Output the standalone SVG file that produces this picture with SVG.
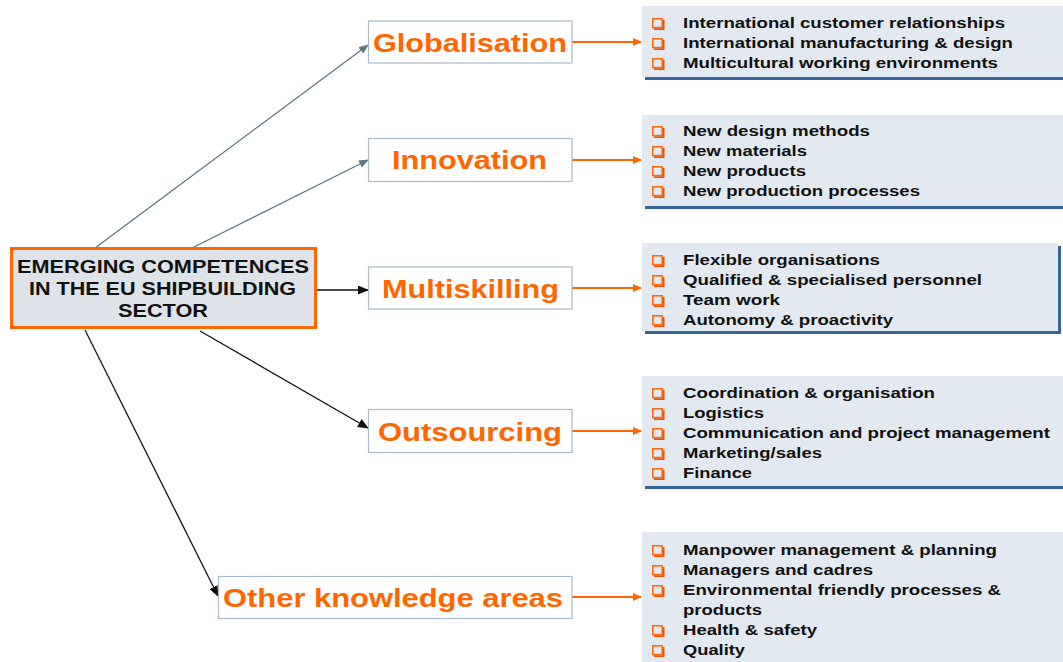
<svg xmlns="http://www.w3.org/2000/svg" width="1063" height="662" viewBox="0 0 1063 662">
<style>
.bg{fill:#ffffff}
.rbox{fill:#e2e9f1}
.shadow{fill:#34649a}
.mbox{fill:#ffffff;stroke:#a9bac9;stroke-width:1.2}
.lbl{font-family:"Liberation Sans",Arial,sans-serif;font-weight:bold;font-size:25.5px;fill:#ff6600}
.item{font-family:"Liberation Sans",Arial,sans-serif;font-weight:bold;font-size:14.5px;fill:#111111}
.ctext{font-family:"Liberation Sans",Arial,sans-serif;font-weight:bold;font-size:18px;fill:#111111}
.gray{stroke:#5d7785;stroke-width:1.3;fill:none}
.blk{stroke:#111111;stroke-width:1.3;fill:none}
.org{stroke:#ff6600;stroke-width:2;fill:none}
</style>
<defs>
<marker id="mg" markerWidth="10" markerHeight="8" refX="9" refY="4" orient="auto" markerUnits="userSpaceOnUse"><path d="M0,0 L10,4 L0,8 Z" fill="#5d7785"/></marker>
<marker id="mb" markerWidth="11" markerHeight="9" refX="10" refY="4.5" orient="auto" markerUnits="userSpaceOnUse"><path d="M0,0 L11,4.5 L0,9 Z" fill="#111111"/></marker>
<marker id="mo" markerWidth="9" markerHeight="8" refX="8" refY="4" orient="auto" markerUnits="userSpaceOnUse"><path d="M0,0 L9,4 L0,8 Z" fill="#ff6600"/></marker>
<g id="bul"><path d="M11.6,2 V11.2 H2" fill="none" stroke="#e0560a" stroke-width="1.8"/><rect x="0.8" y="0.8" width="9.4" height="8.8" fill="none" stroke="#ff6a10" stroke-width="1.6"/></g>
</defs>
<rect class="bg" x="0" y="0" width="1063" height="662"/>

<g id="connectors">
<line class="gray" x1="95" y1="248" x2="368" y2="45" marker-end="url(#mg)"/>
<line class="gray" x1="192" y1="248" x2="368" y2="160" marker-end="url(#mg)"/>
<line class="blk" x1="317" y1="290" x2="368" y2="290" marker-end="url(#mb)"/>
<line class="blk" x1="200" y1="331" x2="368" y2="428" marker-end="url(#mb)"/>
<line class="blk" x1="85" y1="330" x2="218" y2="596" marker-end="url(#mb)"/>
<line class="org" x1="572" y1="42" x2="641" y2="42" marker-end="url(#mo)"/>
<line class="org" x1="572" y1="160" x2="641" y2="160" marker-end="url(#mo)"/>
<line class="org" x1="572" y1="288" x2="641" y2="288" marker-end="url(#mo)"/>
<line class="org" x1="572" y1="431" x2="641" y2="431" marker-end="url(#mo)"/>
<line class="org" x1="572" y1="597" x2="641" y2="597" marker-end="url(#mo)"/>
</g>

<g id="center">
<rect x="11.5" y="248.5" width="304" height="79" fill="#dde3e8" stroke="#ff6600" stroke-width="3"/>
<text class="ctext" x="17" y="273" textLength="292" lengthAdjust="spacingAndGlyphs">EMERGING COMPETENCES</text>
<text class="ctext" x="29" y="295" textLength="267" lengthAdjust="spacingAndGlyphs">IN THE EU SHIPBUILDING</text>
<text class="ctext" x="118" y="317" textLength="90" lengthAdjust="spacingAndGlyphs">SECTOR</text>
</g>

<g id="globalisation">
<rect class="mbox" x="368.5" y="21" width="203.5" height="42"/>
<text class="lbl" x="373" y="52" textLength="194" lengthAdjust="spacingAndGlyphs">Globalisation</text>
</g>
<g id="innovation">
<rect class="mbox" x="368.5" y="138.5" width="203.5" height="43"/>
<text class="lbl" x="392" y="168.5" textLength="155" lengthAdjust="spacingAndGlyphs">Innovation</text>
</g>
<g id="multiskilling">
<rect class="mbox" x="368.5" y="267" width="203.5" height="42"/>
<text class="lbl" x="382" y="297.5" textLength="177" lengthAdjust="spacingAndGlyphs">Multiskilling</text>
</g>
<g id="outsourcing">
<rect class="mbox" x="368.5" y="409.5" width="203.5" height="43"/>
<text class="lbl" x="378" y="441" textLength="184" lengthAdjust="spacingAndGlyphs">Outsourcing</text>
</g>
<g id="other">
<rect class="mbox" x="218.5" y="576.5" width="353.5" height="42"/>
<text class="lbl" x="223" y="607" textLength="340" lengthAdjust="spacingAndGlyphs">Other knowledge areas</text>
</g>

<g id="list-globalisation">
<rect class="shadow" x="645" y="9" width="425" height="71"/>
<rect class="rbox" x="642" y="6" width="425" height="71"/>
<use href="#bul" x="652" y="18"/>
<use href="#bul" x="652" y="38"/>
<use href="#bul" x="652" y="58"/>
<text class="item" x="683" y="28" textLength="322" lengthAdjust="spacingAndGlyphs">International customer relationships</text>
<text class="item" x="683" y="48" textLength="330" lengthAdjust="spacingAndGlyphs">International manufacturing &amp; design</text>
<text class="item" x="683" y="68" textLength="315" lengthAdjust="spacingAndGlyphs">Multicultural working environments</text>
</g>

<g id="list-innovation">
<rect class="shadow" x="645" y="118" width="425" height="91"/>
<rect class="rbox" x="642" y="115" width="425" height="91"/>
<use href="#bul" x="652" y="126"/>
<use href="#bul" x="652" y="146"/>
<use href="#bul" x="652" y="166"/>
<use href="#bul" x="652" y="186"/>
<text class="item" x="683" y="136" textLength="187" lengthAdjust="spacingAndGlyphs">New design methods</text>
<text class="item" x="683" y="156" textLength="124" lengthAdjust="spacingAndGlyphs">New materials</text>
<text class="item" x="683" y="176" textLength="123" lengthAdjust="spacingAndGlyphs">New products</text>
<text class="item" x="683" y="196" textLength="237" lengthAdjust="spacingAndGlyphs">New production processes</text>
</g>

<g id="list-multiskilling">
<rect class="shadow" x="645" y="246" width="416" height="88"/>
<rect class="rbox" x="642" y="243" width="416" height="88"/>
<use href="#bul" x="652" y="255"/>
<use href="#bul" x="652" y="275"/>
<use href="#bul" x="652" y="295"/>
<use href="#bul" x="652" y="315"/>
<text class="item" x="683" y="265" textLength="197" lengthAdjust="spacingAndGlyphs">Flexible organisations</text>
<text class="item" x="683" y="285" textLength="299" lengthAdjust="spacingAndGlyphs">Qualified &amp; specialised personnel</text>
<text class="item" x="683" y="305" textLength="97" lengthAdjust="spacingAndGlyphs">Team work</text>
<text class="item" x="683" y="325" textLength="210" lengthAdjust="spacingAndGlyphs">Autonomy &amp; proactivity</text>
</g>

<g id="list-outsourcing">
<rect class="shadow" x="645" y="379" width="425" height="110"/>
<rect class="rbox" x="642" y="376" width="425" height="110"/>
<use href="#bul" x="652" y="388"/>
<use href="#bul" x="652" y="408"/>
<use href="#bul" x="652" y="428"/>
<use href="#bul" x="652" y="448"/>
<use href="#bul" x="652" y="468"/>
<text class="item" x="683" y="398" textLength="252" lengthAdjust="spacingAndGlyphs">Coordination &amp; organisation</text>
<text class="item" x="683" y="418" textLength="81" lengthAdjust="spacingAndGlyphs">Logistics</text>
<text class="item" x="683" y="438" textLength="367" lengthAdjust="spacingAndGlyphs">Communication and project management</text>
<text class="item" x="683" y="458" textLength="139" lengthAdjust="spacingAndGlyphs">Marketing/sales</text>
<text class="item" x="683" y="478" textLength="69" lengthAdjust="spacingAndGlyphs">Finance</text>
</g>

<g id="list-other">
<rect class="rbox" x="642" y="532" width="425" height="140"/>
<use href="#bul" x="652" y="545"/>
<use href="#bul" x="652" y="565"/>
<use href="#bul" x="652" y="585"/>
<use href="#bul" x="652" y="625"/>
<use href="#bul" x="652" y="645"/>
<text class="item" x="683" y="555" textLength="314" lengthAdjust="spacingAndGlyphs">Manpower management &amp; planning</text>
<text class="item" x="683" y="575" textLength="190" lengthAdjust="spacingAndGlyphs">Managers and cadres</text>
<text class="item" x="683" y="595" textLength="318" lengthAdjust="spacingAndGlyphs">Environmental friendly processes &amp;</text>
<text class="item" x="683" y="615" textLength="79" lengthAdjust="spacingAndGlyphs">products</text>
<text class="item" x="683" y="635" textLength="134" lengthAdjust="spacingAndGlyphs">Health &amp; safety</text>
<text class="item" x="683" y="655" textLength="62" lengthAdjust="spacingAndGlyphs">Quality</text>
</g>
</svg>
